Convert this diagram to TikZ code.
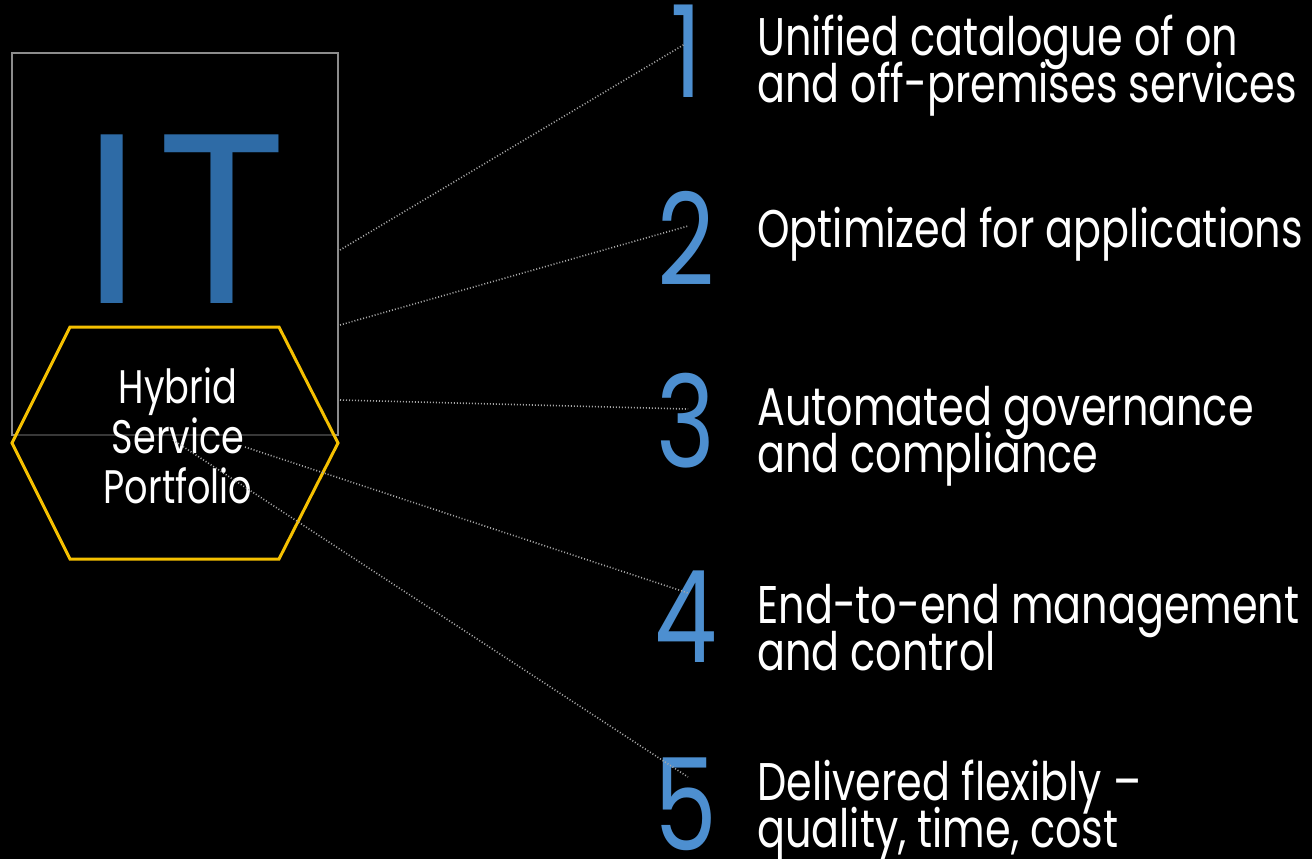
\documentclass[tikz,border=0pt]{standalone}
\usepackage{fontspec}
\setmainfont{Poppins}[FakeStretch=0.78]
\newfontfamily\itfont{Poppins}
\usepackage{tikz}
\newcommand\tightlines{\lineskiplimit=-50pt\relax}
\definecolor{itblue}{HTML}{2E6BA6}
\definecolor{numblue}{HTML}{4D8FD0}
\definecolor{hexyellow}{HTML}{F5C000}
\definecolor{boxgray}{HTML}{8C8C8C}
\definecolor{dotgray}{HTML}{A8A8A8}
\tikzstyle{link} = [dotgray,line width=0.8pt,dash pattern=on 0.5pt off 1pt]
\tikzstyle{num} = [numblue,anchor=base,inner sep=0pt,font=\fontsize{64}{64}\selectfont]
\tikzstyle{item} = [white,anchor=base west,inner sep=0pt,align=left,
    font=\fontsize{26.5}{23.5}\selectfont\tightlines]

\begin{document}
\begin{tikzpicture}[x=0.5pt,y=-0.5pt]
    \fill[black] (0,0) rectangle (1312,859);
    \useasboundingbox (0,0) rectangle (1312,859);

    % IT box
    \node (itbox) [draw=boxgray,line width=0.75pt,inner sep=0pt,
        minimum width=163pt,minimum height=191pt] at (175,244) {};
    \node (it) [itblue,anchor=base,inner sep=0pt,
        font=\itfont\fontsize{121}{121}\selectfont] at (185,303) {I\kern7ptT};

    % hexagon
    \coordinate (h1) at (70,327);
    \coordinate (h2) at (279,327);
    \coordinate (h3) at (338,443);
    \coordinate (h4) at (279,559);
    \coordinate (h5) at (70,559);
    \coordinate (h6) at (12,443);
    \draw[hexyellow,line width=1.5pt,fill=black,fill opacity=0.6]
        (h1) -- (h2) -- (h3) -- (h4) -- (h5) -- (h6) -- cycle;
    \node (hsp) [white,anchor=base,inner sep=0pt,align=center,
        font=\fontsize{23.5}{25}\selectfont\tightlines] at (178,503)
        {Hybrid\\Service\\Portfolio};

    % numbers
    \node (d1) [num] at (686,97) {1};
    \node (d2) [num] at (686,285) {2};
    \node (d3) [num] at (686,467) {3};
    \node (d4) [num] at (686,662) {4};
    \node (d5) [num] at (686,850) {5};

    % items
    \node (t1) [item] at (757,102) {Unified catalogue of on\\and off-premises services};
    \node (t2) [item] at (757,247) {Optimized for applications};
    \node (t3) [item] at (757,472) {Automated governance\\and compliance};
    \node (t4) [item] at (757,670) {End-to-end management\\and control};
    \node (t5) [item] at (757,847) {Delivered flexibly --\\quality, time, cost};

    % dotted links
    \coordinate (s1) at (340,250);
    \coordinate (s2) at (340,325);
    \coordinate (s3) at (340,400);
    \coordinate (s4) at (245,447);
    \coordinate (s5) at (173,440);
    \coordinate (e1) at (685,44);
    \coordinate (e2) at (688,226);
    \coordinate (e3) at (688,409);
    \coordinate (e4) at (688,593);
    \coordinate (e5) at (688,777);
    \foreach \i in {1,...,5}
        \draw[link] (s\i) -- (e\i);
\end{tikzpicture}
\end{document}
